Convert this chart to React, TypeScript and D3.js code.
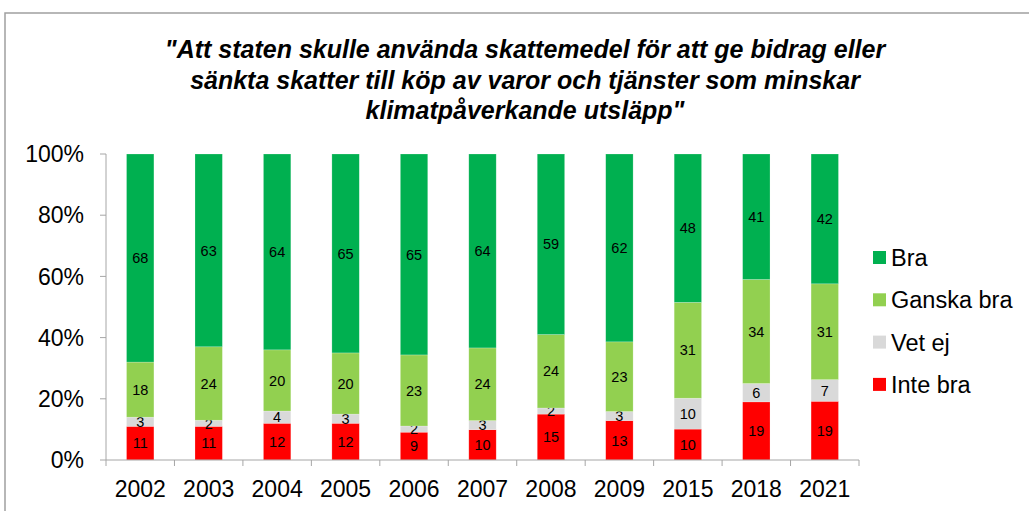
import React from "react";
import * as d3 from "d3";

const years = ["2002", "2003", "2004", "2005", "2006", "2007", "2008", "2009", "2015", "2018", "2021"];
const inteBra = [11, 11, 12, 12, 9, 10, 15, 13, 10, 19, 19];
const vetEj = [3, 2, 4, 3, 2, 3, 2, 3, 10, 6, 7];
const ganskaBra = [18, 24, 20, 20, 23, 24, 24, 23, 31, 34, 31];
const bra = [68, 63, 64, 65, 65, 64, 59, 62, 48, 41, 42];
const yTicks = [0, 0.2, 0.4, 0.6, 0.8, 1];
const titleLines = [
  "\"Att staten skulle använda skattemedel för att ge bidrag eller",
  "sänkta skatter till köp av varor och tjänster som minskar",
  "klimatpåverkande utsläpp\"",
];

const series = [
  { name: "Inte bra", values: inteBra, color: "#FF0000" },
  { name: "Vet ej", values: vetEj, color: "#D9D9D9" },
  { name: "Ganska bra", values: ganskaBra, color: "#92D050" },
  { name: "Bra", values: bra, color: "#00B050" },
];

export default function App() {
  const W = 1029, H = 511;
  const left = 106, right = 859, top = 154, bottom = 460;
  const x = d3.scaleBand().domain(years).range([left, right]).paddingInner(0.6).paddingOuter(0.3);
  const y = d3.scaleLinear().domain([0, 1]).range([bottom, top]);
  const step = x.step();
  const font = "'Liberation Sans', Arial, sans-serif";
  const axisColor = "#A6A6A6";

  const bars: React.ReactNode[] = [];
  years.forEach((yr, i) => {
    const total = series.reduce((s, se) => s + se.values[i], 0);
    let cum = 0;
    series.forEach((se) => {
      const v = se.values[i];
      const y0 = cum / total;
      const y1 = (cum + v) / total;
      cum += v;
      const yt = y(y1), yb = y(y0);
      bars.push(
        <g key={yr + se.name}>
          <rect x={x(yr)} y={yt} width={x.bandwidth()} height={yb - yt} fill={se.color} stroke="#ffffff" strokeOpacity={0.35} strokeWidth={0.6} />
          <text x={(x(yr) as number) + x.bandwidth() / 2} y={(yt + yb) / 2} dy="0.36em" textAnchor="middle" fontSize={14.5} fontFamily={font} fill="#000">{v}</text>
        </g>
      );
    });
  });

  const legendItems = [...series].reverse();

  return (
    <svg width={W} height={H} style={{ position: "absolute", left: 0, top: 0 }}>
      <rect x={0} y={0} width={W} height={H} fill="#fff" />
      <path d={`M5,${H + 5} L5,13 L${W + 5},13`} fill="none" stroke="#A0A0A0" strokeWidth={1.5} />
      {titleLines.map((t, i) => (
        <text key={i} x={525} y={58 + i * 30.5} textAnchor="middle" fontSize={25} fontWeight="bold" fontStyle="italic" fontFamily={font} fill="#000">{t}</text>
      ))}
      {bars}
      <line x1={left} x2={left} y1={top} y2={bottom} stroke={axisColor} strokeWidth={1} />
      <line x1={left} x2={right} y1={bottom} y2={bottom} stroke={axisColor} strokeWidth={1} />
      {yTicks.map((t) => (
        <g key={t}>
          <line x1={left - 6} x2={left} y1={y(t)} y2={y(t)} stroke={axisColor} />
          <text x={84} y={y(t)} dy="0.36em" textAnchor="end" fontSize={23} fontFamily={font} fill="#000">{d3.format(".0%")(t)}</text>
        </g>
      ))}
      {d3.range(years.length + 1).map((k) => (
        <line key={k} x1={left + k * step} x2={left + k * step} y1={bottom} y2={bottom + 6} stroke={axisColor} />
      ))}
      {years.map((yr) => (
        <text key={yr} x={(x(yr) as number) + x.bandwidth() / 2} y={497} textAnchor="middle" fontSize={23} fontFamily={font} fill="#000">{yr}</text>
      ))}
      {legendItems.map((se, i) => (
        <g key={se.name}>
          <rect x={873} y={251 + i * 42.3} width={13} height={13} fill={se.color} />
          <text x={891} y={257.5 + i * 42.3} dy="0.36em" fontSize={23.5} fontFamily={font} fill="#000">{se.name}</text>
        </g>
      ))}
    </svg>
  );
}
